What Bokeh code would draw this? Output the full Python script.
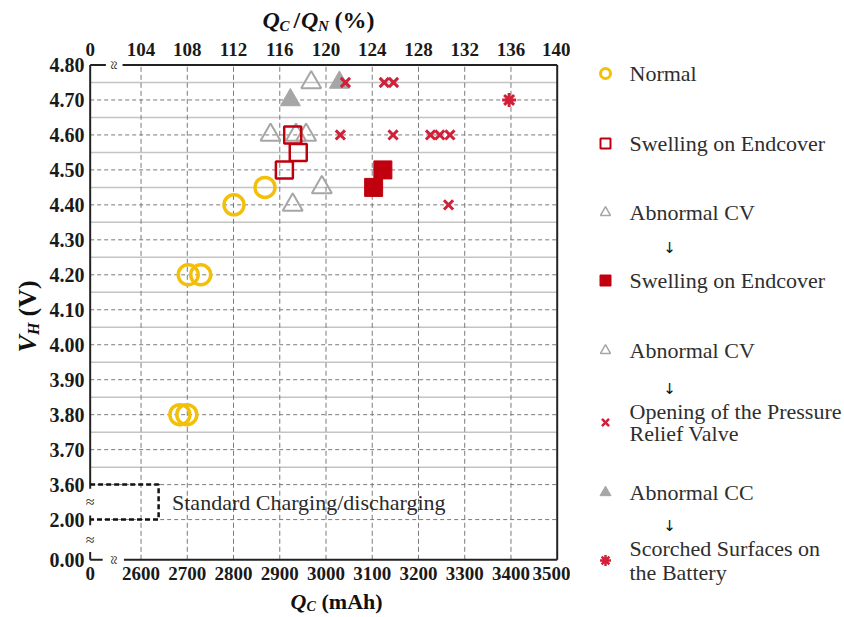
import math
from bokeh.plotting import figure
from bokeh.models import Range1d, FixedTicker, LinearAxis
from bokeh.layouts import row, column
from bokeh.embed import file_html
from bokeh.resources import INLINE
from bokeh.core.properties import value

# ---------------- data ----------------
normal_qc = [2684, 2699, 2702, 2729, 2801, 2868]
normal_vh = [3.80, 3.80, 4.20, 4.20, 4.40, 4.45]

swell_qc = [2910, 2940, 2928]
swell_vh = [4.50, 4.55, 4.60]

cv_qc = [2880, 2935, 2957, 2928, 2991, 2968]
cv_vh = [4.60, 4.60, 4.60, 4.40, 4.45, 4.75]

swell2_qc = [3103, 3123]
swell2_vh = [4.45, 4.50]

prv_qc = [3042, 3126, 3146, 3031, 3145, 3226, 3246, 3268, 3265]
prv_vh = [4.75, 4.75, 4.75, 4.60, 4.60, 4.60, 4.60, 4.60, 4.40]

cc_qc = [2923, 3029]
cc_vh = [4.70, 4.75]

scorch_qc = [3396]
scorch_vh = [4.70]

x_tick_labels = ["0", "2600", "2700", "2800", "2900", "3000", "3100", "3200", "3300", "3400", "3500"]
pct_tick_labels = ["0", "104", "108", "112", "116", "120", "124", "128", "132", "136", "140"]
y_tick_labels = ["0.00", "2.00", "3.60", "3.70", "3.80", "3.90", "4.00", "4.10", "4.20",
                 "4.30", "4.40", "4.50", "4.60", "4.70", "4.80"]
QN = 2500  # nominal capacity, mAh

legend_labels = ["Normal", "Swelling on Endcover", "Abnormal CV", "Swelling on Endcover",
                 "Abnormal CV", "Opening of the Pressure\nRelief Valve", "Abnormal CC",
                 "Scorched Surfaces on\nthe Battery"]

# ---------------- layout constants (page pixels) ----------------
X0 = 2490          # broken-axis position of "0"
X1 = 3500
Y_BREAK = {"0.00": 3.385, "2.00": 3.5}
Y1 = 4.80

TOTAL_W, TOTAL_H = 844, 617
T_H = 34           # top strip
L_W = 46           # left strip
ML, MR, MT, MB = 36, 10, 24, 23
FW, FH = 478, 507  # frame size
MAIN_W = ML + FW + MR
MAIN_H = MT + FH + MB
B_H = TOTAL_H - T_H - MAIN_H
LEG_W = TOTAL_W - L_W - MAIN_W

KX = 469.0 / (X1 - X0)
KY = 494.8 / (Y1 - Y_BREAK["0.00"])
XLO = X0 - (87.7 - (L_W + ML)) / KX
XHI = XLO + FW / KX
YHI = Y1 + (64.5 - (T_H + MT)) / KY
YLO = YHI - FH / KY

SERIF = "Liberation Serif"

p = figure(width=MAIN_W, height=MAIN_H, x_range=Range1d(XLO, XHI), y_range=Range1d(YLO, YHI),
           output_backend="svg", toolbar_location=None, frame_align=False,
           min_border_left=ML, min_border_right=MR, min_border_top=MT, min_border_bottom=MB)
p.outline_line_color = None
p.grid.visible = False
p.background_fill_color = "white"
p.border_fill_color = "white"

# ticks
x_ticks = [X0] + [float(s) for s in x_tick_labels[1:]]
y_ticks = [Y_BREAK.get(s, float(s)) for s in y_tick_labels]
pct_ticks = [X0] + [float(s) * QN / 100 for s in pct_tick_labels[1:]]


def style_axis(ax, standoff, size):
    ax.axis_line_color = None
    ax.major_tick_line_color = None
    ax.minor_tick_line_color = None
    ax.major_tick_out = 0
    ax.major_tick_in = 0
    ax.major_label_text_font = SERIF
    ax.major_label_text_font_style = "bold"
    ax.major_label_text_font_size = size
    ax.major_label_text_color = "#1a1a1a"
    ax.major_label_standoff = standoff


xa = p.xaxis[0]
xa.ticker = FixedTicker(ticks=x_ticks)
xa.major_label_overrides = {t: s for t, s in zip(x_ticks, x_tick_labels)}
style_axis(xa, 1, "19px")

ya = p.yaxis[0]
ya.ticker = FixedTicker(ticks=y_ticks)
ya.major_label_overrides = {t: s for t, s in zip(y_ticks, y_tick_labels)}
style_axis(ya, 0, "20px")

top = LinearAxis(ticker=FixedTicker(ticks=pct_ticks),
                 major_label_overrides={t: s for t, s in zip(pct_ticks, pct_tick_labels)})
style_axis(top, 3, "19px")
p.add_layout(top, "above")

# grid lines
major_h = [3.5] + [float(s) for s in y_tick_labels[2:-1]]
minor_h = [round(float(s) + 0.05, 2) for s in y_tick_labels[2:-1]]
vgrid = [float(s) for s in x_tick_labels[1:-1]]
p.segment(x0=[X0] * len(minor_h), x1=[X1] * len(minor_h), y0=minor_h, y1=minor_h,
          line_color="#c4c4c4", line_width=1.5)
p.segment(x0=[X0] * len(major_h), x1=[X1] * len(major_h), y0=major_h, y1=major_h,
          line_color="#7a7a7a", line_width=1, line_dash="4 3")
p.segment(x0=vgrid, x1=vgrid, y0=[Y_BREAK["0.00"]] * len(vgrid), y1=[Y1] * len(vgrid),
          line_color="#7a7a7a", line_width=1, line_dash="5 3")

# frame with breaks
YB0 = Y_BREAK["0.00"]
frame_x0 = [X0, X0, X0, X0, 2560, X0, 2563, X1]
frame_x1 = [X0, X0, X0, 2524, X1, 2517, X1, X1]
frame_y0 = [Y1, 3.512, 3.407, Y1, Y1, YB0, YB0, YB0]
frame_y1 = [3.588, 3.484, YB0, Y1, Y1, YB0, YB0, Y1]
p.segment(x0=frame_x0, x1=frame_x1, y0=frame_y0, y1=frame_y1, line_color="#222222", line_width=2)

# standard charging box
p.line(x=[X0, 2638, 2638, X0], y=[3.6, 3.6, 3.5, 3.5], line_color="#111111",
       line_width=2.5, line_dash="5 3")
p.text(x=[2667], y=[3.55], text=["Standard Charging/discharging"], text_font=value(SERIF),
       text_font_size="22px", text_baseline="middle", text_align="left", text_color="#2a2a2a")

# break symbols
p.text(x=[X0, X0], y=[3.553, 3.442], text=["≈", "≈"], text_font=value(SERIF),
       text_font_size="16px", text_align="center", text_baseline="middle", text_color="#222222")
p.text(x=[2541, 2541], y=[Y1, YB0], text=["≈", "≈"], text_font=value(SERIF), angle=math.pi / 2,
       text_font_size="16px", text_align="center", text_baseline="middle", text_color="#222222")

# markers
YEL = "#F2C00A"
RED = "#C0000F"
XRED = "#D0203A"
GRY = "#A6A6A6"
p.scatter(cv_qc, cv_vh, marker="triangle", size=20, fill_color=None, line_color=GRY, line_width=2)
p.scatter(cc_qc, cc_vh, marker="triangle", size=20, fill_color=GRY, line_color=GRY, line_width=1)
p.scatter(normal_qc, normal_vh, marker="circle", size=20, fill_color=None, line_color=YEL, line_width=3.5)
p.scatter(swell_qc, swell_vh, marker="square", size=17, fill_color=None, line_color=RED, line_width=2.5)
p.scatter(swell2_qc, swell2_vh, marker="square", size=18, fill_color=RED, line_color=RED, line_width=1)
p.scatter(prv_qc, prv_vh, marker="x", size=13, line_color=XRED, line_width=3)
p.scatter(scorch_qc, scorch_vh, marker="asterisk", size=14, line_color=XRED, line_width=3)


# ---------------- strips for titles and legend (coords = page pixels, y negated) ----------------
def strip(w, h, x0, y0):
    f = figure(width=w, height=h, x_range=Range1d(x0, x0 + w), y_range=Range1d(-(y0 + h), -y0),
               output_backend="svg", toolbar_location=None, x_axis_location=None,
               y_axis_location=None, min_border=0, frame_align=False)
    f.grid.visible = False
    f.outline_line_color = None
    f.border_fill_color = "white"
    f.background_fill_color = "white"
    return f


def put(f, px, py, text, size, style="bold", angle=0.0, font=SERIF, color="#111111", align="left"):
    f.text(x=[px], y=[-py], text=[text], text_font=value(font), text_font_size=size,
           text_font_style=style, angle=angle, text_align=align, text_baseline="middle",
           text_color=color)


top_strip = strip(TOTAL_W, T_H, 0, 0)
put(top_strip, 262, 19, "Q", "24px", "bold italic")
put(top_strip, 279, 25, "C", "15px", "bold italic")
put(top_strip, 293, 19, "/", "24px")
put(top_strip, 300.5, 19, "Q", "24px", "bold italic")
put(top_strip, 317.5, 25, "N", "15px", "bold italic")
put(top_strip, 334, 19, "(%)", "24px")

left_strip = strip(L_W, MAIN_H, 0, T_H)
put(left_strip, 27, 352, "V", "26px", "bold italic", math.pi / 2)
put(left_strip, 33, 334.5, "H", "16px", "bold italic", math.pi / 2)
put(left_strip, 27, 316, "(V)", "26px", "bold", math.pi / 2)

bottom_strip = strip(TOTAL_W, B_H, 0, T_H + MAIN_H)
put(bottom_strip, 290, 601, "Q", "22px", "bold italic")
put(bottom_strip, 306, 606, "C", "14px", "bold italic")
put(bottom_strip, 321, 601, "(mAh)", "22px")

leg_x0 = L_W + MAIN_W
lg = strip(LEG_W, MAIN_H, leg_x0, T_H)

MX, TX, AX = 605, 629, 669
lg.scatter([MX], [-73], marker="circle", size=10, fill_color=None, line_color=YEL, line_width=3)
lg.scatter([MX], [-143], marker="square", size=10, fill_color=None, line_color=RED, line_width=2)
lg.scatter([MX], [-212], marker="triangle", size=10, fill_color=None, line_color=GRY, line_width=1.5)
lg.scatter([MX], [-280], marker="square", size=11, fill_color=RED, line_color=RED)
lg.scatter([MX], [-350], marker="triangle", size=10, fill_color=None, line_color=GRY, line_width=1.5)
lg.scatter([MX], [-422], marker="x", size=10, line_color=XRED, line_width=2.5)
lg.scatter([MX], [-492], marker="triangle", size=11, fill_color=GRY, line_color=GRY)
lg.scatter([MX], [-560], marker="asterisk", size=11, line_color=XRED, line_width=2.5)

lines = []
for lbl in legend_labels:
    lines.extend(lbl.split("\n"))
line_y = [73, 143, 212, 280, 350, 411, 433, 492, 548, 572]
for txt, yy in zip(lines, line_y):
    put(lg, TX, yy, txt, "22px", "normal", color="#2e2e2e")
for yy in [247, 388, 525]:
    put(lg, AX, yy, "↓", "15px", "normal", font="DejaVu Sans", align="center")

layout = column(top_strip, row(left_strip, p, lg), bottom_strip)
open("out.html", "w").write(file_html(layout, INLINE))
